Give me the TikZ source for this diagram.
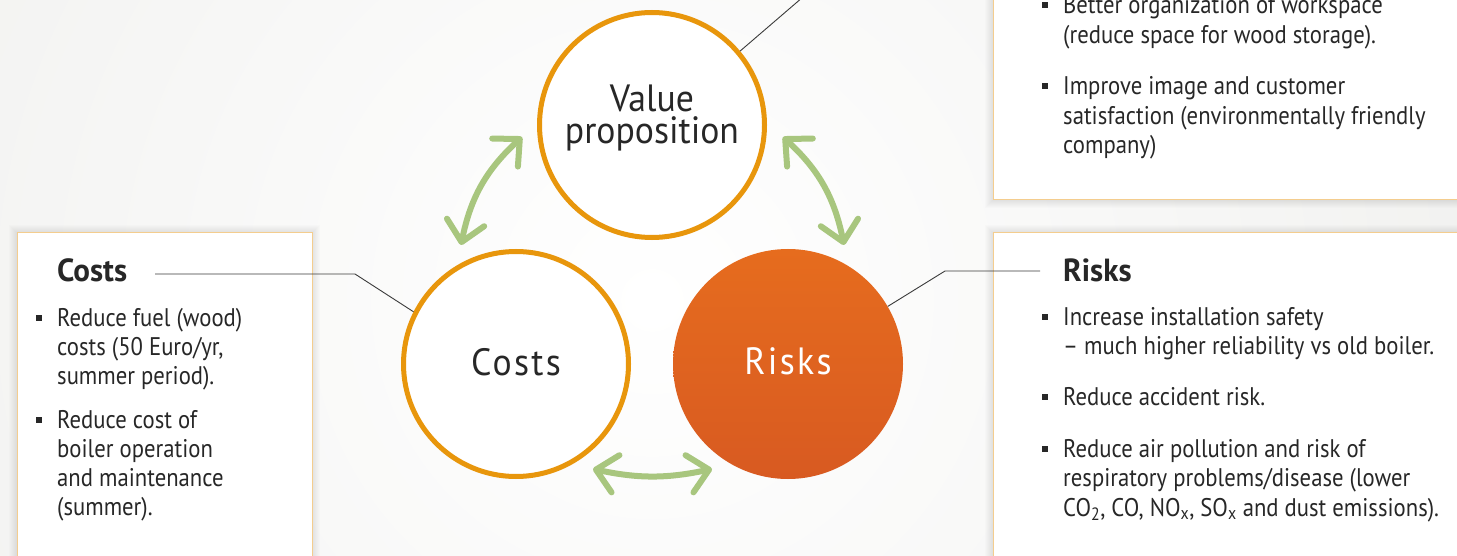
\documentclass[tikz,border=0pt]{standalone}
\usepackage{fontspec}
\setmainfont{PT Sans}[FakeStretch=0.89]
\newfontfamily\ringfont{PT Sans}[FakeStretch=0.94]
\newfontfamily\ringwidefont{PT Sans}[FakeStretch=0.94, LetterSpace=6]
\newfontfamily\headfont{PT Sans Bold}[FakeStretch=0.97]
\usetikzlibrary{arrows.meta,calc}
\definecolor{ringorange}{HTML}{E8960C}
\definecolor{riskA}{HTML}{E66C1E}
\definecolor{riskB}{HTML}{D85A21}
\definecolor{arrowgreen}{HTML}{A8C67E}
\definecolor{boxline}{HTML}{F4CD8E}
\definecolor{txtgray}{HTML}{272727}
\definecolor{leadgray}{HTML}{3A3A3A}
\definecolor{bggray}{HTML}{EFEFED}
\begin{document}
\begin{tikzpicture}[x=1pt, y=-1pt,
    ring/.style={circle, draw=ringorange, line width=5pt, fill=white, minimum size=225pt, inner sep=0pt},
    riskring/.style={circle, top color=riskA, bottom color=riskB, minimum size=230pt, inner sep=0pt},
    ringlabel/.style={anchor=base, inner sep=0pt, font=\ringwidefont\fontsize{38}{40}\selectfont, text=txtgray},
    headtext/.style={anchor=base west, inner sep=0pt, font=\headfont\fontsize{32}{34}\selectfont, text=txtgray},
    bodytext/.style={anchor=base west, inner sep=0pt, font=\fontsize{25.5}{29}\selectfont, text=txtgray},
    bulletsq/.style={rectangle, fill=txtgray, minimum size=6pt, inner sep=0pt},
    infobox/.style={draw=boxline, line width=1pt, fill=white},
    leader/.style={draw=leadgray, line width=0.9pt},
    cycarrow/.style={draw=arrowgreen, line width=6pt, line cap=round,
      >={Straight Barb[length=20pt,width=38pt,round]}, <->}]
  \useasboundingbox (0,0) rectangle (1457,556);
  % background
  \fill[bggray] (0,0) rectangle (1457,556);
  \begin{scope}
    \clip (0,0) rectangle (1457,556);
    \shade[inner color=white, outer color=bggray] (652,300) circle (1000);
  \end{scope}
  % soft shadows, then the three boxes
  \foreach \s in {1,...,8} {
    \fill[black, opacity=0.012] (17-\s,233-\s) rectangle (312+\s,570);
    \fill[black, opacity=0.012] (993-\s,-10) rectangle (1470,200+\s);
    \fill[black, opacity=0.012] (993-\s,233-\s) rectangle (1470,570);
  }
  \draw[infobox] (17,233) rectangle (312,570);
  \draw[infobox] (993,-10) rectangle (1470,200);
  \draw[infobox] (993,233) rectangle (1470,570);

  % circles
  \node[ring] (vp) at (652,125) {};
  \node[ring] (costs) at (516,364) {};
  \node[riskring] (risks) at (788,364) {};
  \node[inner sep=0pt, align=center, text=txtgray,
    font=\ringfont\fontsize{38}{32}\selectfont] (vplabel) at (652,118.5) {Value\\proposition};
  \node[ringlabel] (costslabel) at (516,375) {Costs};
  \node[ringlabel, text=white] (riskslabel) at (788,374) {Risks};

  % arrows between the circles
  \coordinate (cv1) at ($(costs)+(-55,-119)$);
  \coordinate (cv2) at ($(vp)+(-130,12)$);
  \coordinate (vr1) at ($(vp)+(131,12)$);
  \coordinate (vr2) at ($(risks)+(56,-119)$);
  \coordinate (rc1) at ($(risks)+(-76,105)$);
  \coordinate (rc2) at ($(costs)+(77,105)$);
  \draw[cycarrow] (cv1) to[bend left=18] (cv2);
  \draw[cycarrow] (vr1) to[bend left=18] (vr2);
  \draw[cycarrow] (rc1) to[bend left=12] (rc2);

  % headings and leader lines
  \node[headtext] (costshead) at (57,281) {Costs};
  \node[headtext] (riskshead) at (1063,281) {Risks};
  \coordinate (costsbend) at (355,274);
  \coordinate (costsend) at (155,274);
  \coordinate (risksbend) at (945,271);
  \coordinate (risksend) at (1040,271);
  \coordinate (vpend) at (803,-3);
  \draw[leader] (costs.153) -- (costsbend) -- (costsend);
  \draw[leader] (risks.30) -- (risksbend) -- (risksend);
  \draw[leader] (vp.40) -- (vpend);

  % costs box
  \foreach \ty/\tline [count=\i] in {326/{Reduce fuel (wood)}, 355/{costs (50 Euro/yr,},
      384.5/{summer period).}, 428/{Reduce cost of}, 457/{boiler operation},
      486.5/{and maintenance}, 515.5/{(summer).}}
    \node[bodytext] (costsline\i) at (57,\ty) {\tline};
  \foreach \by [count=\j] in {317.5, 419.5}
    \node[bulletsq] (costsbul\j) at (39,\by) {};

  % value box
  \foreach \ty/\tline [count=\i] in {14/{Better organization of workspace},
      43.3/{(reduce space for wood storage).}, 95/{Improve image and customer},
      124.3/{satisfaction (environmentally friendly}, 153.6/{company)}}
    \node[bodytext] (vpline\i) at (1063,\ty) {\tline};
  \foreach \by [count=\j] in {5.5, 86.5}
    \node[bulletsq] (vpbul\j) at (1045,\by) {};

  % risks box
  \foreach \ty/\tline [count=\i] in {325/{Increase installation safety},
      354.5/{– much higher reliability vs old boiler.}, 405/{Reduce accident risk.},
      457/{Reduce air pollution and risk of}, 486.5/{respiratory problems/disease (lower},
      516/{CO\textsubscript{2}, CO, NO\textsubscript{x}, SO\textsubscript{x} and dust emissions).}}
    \node[bodytext] (risksline\i) at (1063,\ty) {\tline};
  \foreach \by [count=\j] in {316.5, 396.5, 448.5}
    \node[bulletsq] (risksbul\j) at (1045,\by) {};
\end{tikzpicture}
\end{document}
